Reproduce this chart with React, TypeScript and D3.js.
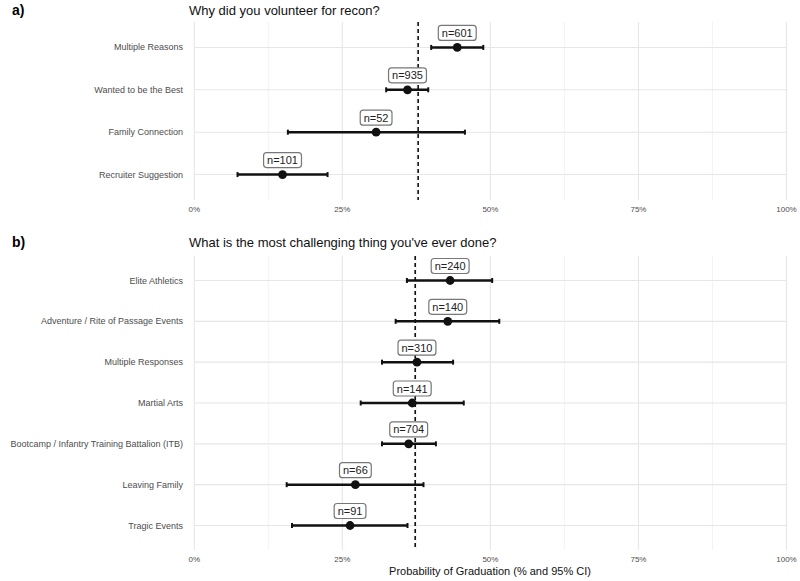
import React from "react";
import * as d3 from "d3";

const topCategories = ["Multiple Reasons", "Wanted to be the Best", "Family Connection", "Recruiter Suggestion"];
const topEstimate = [44.4, 36.0, 30.7, 14.9];
const topLower = [40.0, 32.4, 15.8, 7.3];
const topUpper = [48.8, 39.5, 45.7, 22.5];
const topN = [601, 935, 52, 101];
const topOverall = 37.8;

const bottomCategories = [
  "Elite Athletics",
  "Adventure / Rite of Passage Events",
  "Multiple Responses",
  "Martial Arts",
  "Bootcamp / Infantry Training Battalion (ITB)",
  "Leaving Family",
  "Tragic Events",
];
const bottomEstimate = [43.2, 42.8, 37.6, 36.8, 36.2, 27.2, 26.3];
const bottomLower = [35.9, 34.0, 31.7, 28.1, 31.7, 15.6, 16.5];
const bottomUpper = [50.3, 51.5, 43.7, 45.5, 40.8, 38.7, 36.0];
const bottomN = [240, 140, 310, 141, 704, 66, 91];
const bottomOverall = 37.3;

const xTicks = [0, 25, 50, 75, 100];
const xMinor = [12.5, 37.5, 62.5, 87.5];

const FONT = "'Liberation Sans', Arial, Helvetica, sans-serif";

const x = d3.scaleLinear().domain([0, 100]).range([194.3, 786.5]);

function textWidth(s: string, size: number) {
  let w = 0;
  for (const c of s) {
    if (c === "=") w += 0.584;
    else if (c === "n") w += 0.556;
    else w += 0.556;
  }
  return w * size;
}

type PanelProps = {
  tag: string;
  title: string;
  titleY: number;
  top: number;
  bottom: number;
  cats: string[];
  est: number[];
  lo: number[];
  hi: number[];
  ns: number[];
  overall: number;
  xTitle?: string;
};

function Panel(p: PanelProps) {
  const y = d3.scalePoint<string>().domain(p.cats).range([p.top, p.bottom]).padding(0.6);
  const [x0, x1] = x.range();
  return (
    <g>
      <text x={12} y={p.titleY + 5} fontFamily={FONT} fontWeight="bold" fontSize={14} fill="#000">
        {p.tag}
      </text>
      <text x={189} y={p.titleY + 4.5} fontFamily={FONT} fontSize={13} fill="#111">
        {p.title}
      </text>
      {xMinor.map((t) => (
        <line key={"mi" + t} x1={x(t)} x2={x(t)} y1={p.top} y2={p.bottom} stroke="#f0f0f0" strokeWidth={0.8} />
      ))}
      {xTicks.map((t) => (
        <line key={"ma" + t} x1={x(t)} x2={x(t)} y1={p.top} y2={p.bottom} stroke="#e6e6e6" strokeWidth={1.1} />
      ))}
      {p.cats.map((c) => (
        <line key={"h" + c} x1={x0} x2={x1} y1={y(c)} y2={y(c)} stroke="#e6e6e6" strokeWidth={1.1} />
      ))}
      {p.cats.map((c) => (
        <text
          key={"yl" + c}
          x={183}
          y={(y(c) as number) + 3}
          textAnchor="end"
          fontFamily={FONT}
          fontSize={9}
          fill="#4d4d4d"
        >
          {c}
        </text>
      ))}
      {xTicks.map((t) => (
        <text
          key={"xl" + t}
          x={x(t)}
          y={p.bottom + 12}
          textAnchor="middle"
          fontFamily={FONT}
          fontSize={8}
          fill="#4d4d4d"
        >
          {t + "%"}
        </text>
      ))}
      <line
        x1={x(p.overall)}
        x2={x(p.overall)}
        y1={p.top}
        y2={p.bottom}
        stroke="#111"
        strokeWidth={1.6}
        strokeDasharray="4,3"
      />
      {p.cats.map((c, i) => {
        const cy = y(c) as number;
        const label = "n=" + p.ns[i];
        const w = textWidth(label, 11) + 7;
        const cx = x(p.est[i]);
        return (
          <g key={"m" + c}>
            <line x1={x(p.lo[i])} x2={x(p.hi[i])} y1={cy} y2={cy} stroke="#111" strokeWidth={2.5} />
            <line x1={x(p.lo[i])} x2={x(p.lo[i])} y1={cy - 2.5} y2={cy + 2.5} stroke="#111" strokeWidth={2} />
            <line x1={x(p.hi[i])} x2={x(p.hi[i])} y1={cy - 2.5} y2={cy + 2.5} stroke="#111" strokeWidth={2} />
            <circle cx={cx} cy={cy} r={4.4} fill="#111" />
            <rect
              x={cx - w / 2}
              y={cy - 22}
              width={w}
              height={15}
              rx={3}
              ry={3}
              fill="#fff"
              stroke="#777"
              strokeWidth={1.2}
            />
            <text x={cx} y={cy - 10.5} textAnchor="middle" fontFamily={FONT} fontSize={11} fill="#222">
              {label}
            </text>
          </g>
        );
      })}
      {p.xTitle && (
        <text x={490} y={p.bottom + 25} textAnchor="middle" fontFamily={FONT} fontSize={11} fill="#111">
          {p.xTitle}
        </text>
      )}
    </g>
  );
}

export default function App() {
  return (
    <svg
      width={800}
      height={581}
      viewBox="0 0 800 581"
      style={{ position: "absolute", left: 0, top: 0, background: "#fff" }}
    >
      <rect x={0} y={0} width={800} height={581} fill="#fff" />
      <Panel
        tag="a)"
        title="Why did you volunteer for recon?"
        titleY={10}
        top={22}
        bottom={200}
        cats={topCategories}
        est={topEstimate}
        lo={topLower}
        hi={topUpper}
        ns={topN}
        overall={topOverall}
      />
      <Panel
        tag="b)"
        title="What is the most challenging thing you've ever done?"
        titleY={242}
        top={256}
        bottom={550}
        cats={bottomCategories}
        est={bottomEstimate}
        lo={bottomLower}
        hi={bottomUpper}
        ns={bottomN}
        overall={bottomOverall}
        xTitle="Probability of Graduation (% and 95% CI)"
      />
    </svg>
  );
}
